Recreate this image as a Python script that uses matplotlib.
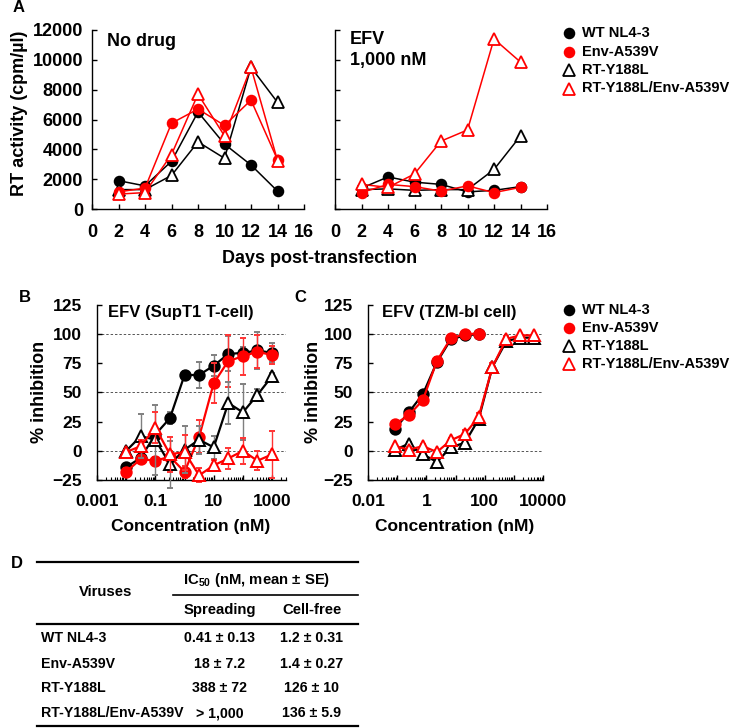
import math
import matplotlib
matplotlib.use('Agg')
import matplotlib.pyplot as plt
from matplotlib.lines import Line2D
from matplotlib import font_manager
from matplotlib.ticker import FixedLocator, FuncFormatter, NullFormatter, LogLocator

# ---------------- data ----------------
series_names = ['WT NL4-3', 'Env-A539V', 'RT-Y188L', 'RT-Y188L/Env-A539V']

days = [2, 4, 6, 8, 10, 12, 14]
A_nodrug_wt = [1900, 1550, 3200, 6500, 4350, 2950, 1200]
A_nodrug_env = [1150, 1400, 5750, 6700, 5600, 7300, 3300]
A_nodrug_rt = [1300, 1300, 2250, 4500, 3400, 9500, 7150]
A_nodrug_rtenv = [1000, 1100, 3650, 7700, 4900, 9500, 3250]

A_efv_wt = [1400, 2150, 1800, 1650, 1150, 1250, 1500]
A_efv_env = [1100, 1650, 1500, 1200, 1550, 1100, 1450]
A_efv_rt = [1300, 1350, 1250, 1300, 1300, 2650, 4900]
A_efv_rtenv = [1650, 1450, 2350, 4550, 5300, 11400, 9850]

B_conc = [0.01, 0.0316, 0.1, 0.316, 1, 3.16, 10, 31.6, 100, 316, 1000]
B_wt = [-14, -6, 14, 28, 65, 65, 73, 83, 84, 86, 84]
B_wt_err = [3, 3, 5, 5, 3, 11, 9, 15, 5, 16, 8]
B_env = [-18, -7, -8.5, -5, -18, 12, 58, 77, 81, 85, 82]
B_env_err = [3, 3, 3, 5, 5, 14, 17, 22, 16, 14, 8]
B_rt = [0, 12.5, 9.5, -11.5, 1, 9.5, 3, 41, 33, 48, 64]
B_rt_err = [2, 19, 30, 20, 20, 12, 10, 18, 24, 5, 3]
B_rtenv = [-1, 4, 20, -3, -1, -21, -12.5, -6.5, 0, -8.5, -3]
B_rtenv_err = [2, 5, 13, 15, 15, 6, 5, 9, 11, 8, 20]

C_conc = [0.085, 0.25, 0.76, 2.3, 6.9, 21, 62, 185, 556, 1667, 5000]
C_wt = [19, 33, 48.5, 76, 95.5, 99, 100]
C_wt_err = [2, 2, 3, 3, 2, 1, 1]
C_env = [23, 30.5, 43.5, 77, 96.5, 100, 100.5]
C_env_err = [2, 2, 3, 3, 2, 1, 1]
C_rt = [1, 6, -3, -9.5, 3, 7, 27, 72, 94, 97, 97]
C_rt_err = [1, 2, 2, 2, 2, 2, 3, 3, 2, 1, 1]
C_rtenv = [4, 1, 4, -1, 9, 14.5, 29, 72, 96, 99, 99]
C_rtenv_err = [1, 2, 2, 2, 2, 3, 3, 3, 2, 1, 1]

table_header_ic50 = 'IC$_{50}$ (nM, mean ± SE)'
table_cols = ['Viruses', 'Spreading', 'Cell-free']
table_rows = ['WT NL4-3', 'Env-A539V', 'RT-Y188L', 'RT-Y188L/Env-A539V']
table_spreading = ['0.41 ± 0.13', '18 ± 7.2', '388 ± 72', '> 1,000']
table_cellfree = ['1.2 ± 0.31', '1.4 ± 0.27', '126 ± 10', '136 ± 5.9']

# ---------------- setup ----------------
plt.rcParams['font.family'] = ['Liberation Sans', 'DejaVu Sans']
plt.rcParams['font.weight'] = 'bold'

names = {f.name for f in font_manager.fontManager.ttflist}
if 'Liberation Sans Narrow' in names:
    tfam = ['Liberation Sans Narrow', 'Liberation Sans']
    tsize = 11.5
else:
    tfam = ['Liberation Sans', 'DejaVu Sans']
    tsize = 10.2
plt.rcParams['mathtext.fontset'] = 'custom'
plt.rcParams['mathtext.rm'] = tfam[0] + ':bold'
plt.rcParams['mathtext.default'] = 'rm'

W, H = 733, 728
fig = plt.figure(figsize=(W / 100, H / 100), dpi=100)


def fx(px):
    return px / W


def fy(py):
    return 1 - py / H


def rect(l, t, r, b):
    return [l / W, 1 - b / H, (r - l) / W, (b - t) / H]


RED = '#ff0000'
styles = [
    dict(color='black', marker='o', mfc='black', mec='black'),
    dict(color=RED, marker='o', mfc=RED, mec=RED),
    dict(color='black', marker='^', mfc='white', mec='black'),
    dict(color=RED, marker='^', mfc='white', mec=RED),
]


def style_axes(ax, tick_size, pad_x, pad_y):
    for s in ['top', 'right']:
        ax.spines[s].set_visible(False)
    for s in ['left', 'bottom']:
        ax.spines[s].set_linewidth(1.0)
    ax.tick_params(which='major', direction='in', length=3.5, width=1.0,
                   labelsize=tick_size)
    ax.tick_params(axis='x', which='major', pad=pad_x)
    ax.tick_params(axis='y', which='major', pad=pad_y)
    ax.tick_params(which='minor', direction='in', length=2, width=0.8)
    for lab in ax.get_xticklabels() + ax.get_yticklabels():
        lab.set_fontweight('bold')


# ---------------- panel A ----------------
axA1 = fig.add_axes(rect(92, 30, 304, 209))
axA2 = fig.add_axes(rect(335, 30, 547, 209))
A_data = [
    (axA1, [A_nodrug_wt, A_nodrug_env, A_nodrug_rt, A_nodrug_rtenv]),
    (axA2, [A_efv_wt, A_efv_env, A_efv_rt, A_efv_rtenv]),
]
for ax, sets in A_data:
    for i, vals in enumerate(sets):
        st = styles[i]
        ms = 7 if st['marker'] == 'o' else 8.5
        ax.plot(days, vals, color=st['color'], marker=st['marker'],
                mfc=st['mfc'], mec=st['mec'], ms=ms, mew=1.3, lw=1.1,
                zorder=3 + (i % 2), clip_on=False)
    ax.set_xlim(0, 16)
    ax.set_ylim(0, 12000)
    ax.set_xticks(range(0, 17, 2))
    ax.set_yticks(range(0, 12001, 2000))
    style_axes(ax, 13, 11, 6.5)
axA2.set_yticklabels([])

fig.text(fx(107), fy(41), 'No drug', fontsize=13, fontweight='bold',
         ha='left', va='center')
fig.text(fx(350), fy(39), 'EFV', fontsize=13, fontweight='bold',
         ha='left', va='center')
fig.text(fx(350), fy(61), '1,000 nM', fontsize=13, fontweight='bold',
         ha='left', va='center')
fig.text(fx(20), fy(113), 'RT activity (cpm/µl)', rotation=90,
         fontsize=13, fontweight='bold', ha='center', va='center')
fig.text(fx(320), fy(258), 'Days post-transfection',
         fontsize=13, fontweight='bold', ha='center', va='center')


# ---------------- legends ----------------
def draw_legend(x_marker, x_text, ys):
    for i, y in enumerate(ys):
        st = styles[i]
        ms = 7 if st['marker'] == 'o' else 8.5
        fig.add_artist(Line2D([fx(x_marker)], [fy(y)], transform=fig.transFigure,
                              marker=st['marker'], mfc=st['mfc'], mec=st['mec'],
                              ms=ms, mew=1.3, ls='none'))
        fig.text(fx(x_text), fy(y), series_names[i], fontsize=10.5,
                 fontweight='bold', ha='left', va='center')


draw_legend(569, 582, [33, 51.5, 70, 88.5])
draw_legend(569, 582, [310, 328, 345.5, 363.5])


# ---------------- panels B, C ----------------
def log_axis(ax, lo, hi, labelled):
    ax.set_xscale('log')
    ax.set_xlim(lo, hi)
    majors = [10.0 ** k for k in range(int(round(math.log10(lo))),
                                        int(math.floor(math.log10(hi))) + 1)]
    ax.xaxis.set_major_locator(FixedLocator(majors))
    lab = dict(labelled)

    def fmt(v, pos):
        for key, s in lab.items():
            if abs(v / key - 1) < 1e-6:
                return s
        return ''
    ax.xaxis.set_major_formatter(FuncFormatter(fmt))
    ax.xaxis.set_minor_locator(LogLocator(base=10, subs=range(2, 10), numticks=30))
    ax.xaxis.set_minor_formatter(NullFormatter())
    ax.set_ylim(-25, 125)
    ax.set_yticks(range(-25, 126, 25))
    for g in (0, 50, 100):
        ax.axhline(g, color='#555555', lw=0.7, ls=(0, (2.5, 2)), zorder=1)


axB = fig.add_axes(rect(97, 305, 286, 480))
axC = fig.add_axes(rect(368, 305, 543, 480))

B_sets = [(B_wt, B_wt_err), (B_env, B_env_err), (B_rt, B_rt_err), (B_rtenv, B_rtenv_err)]
C_sets = [(C_wt, C_wt_err), (C_env, C_env_err), (C_rt, C_rt_err), (C_rtenv, C_rtenv_err)]
for ax, conc, sets in [(axB, B_conc, B_sets), (axC, C_conc, C_sets)]:
    order = [2, 3, 0, 1]
    for i in order:
        vals, err = sets[i]
        st = styles[i]
        x = conc[:len(vals)]
        ecol = '#7f7f7f' if st['color'] == 'black' else '#ff3333'
        ms = 7.5 if st['marker'] == 'o' else 8.5
        ax.errorbar(x, vals, yerr=err, color=st['color'], ecolor=ecol,
                    elinewidth=1.0, capsize=2.5, capthick=1.0,
                    marker=st['marker'], mfc=st['mfc'], mec=st['mec'],
                    ms=ms, mew=1.4, lw=1.6, zorder=3 + i, clip_on=False)

log_axis(axB, 0.001, 3000, [(0.001, '0.001'), (0.1, '0.1'), (10, '10'), (1000, '1000')])
log_axis(axC, 0.01, 10000, [(0.01, '0.01'), (1, '1'), (100, '100'), (10000, '10000')])
style_axes(axB, 12.5, 10, 11)
style_axes(axC, 12.5, 10, 11)

fig.text(fx(108), fy(313), 'EFV (SupT1 T-cell)', fontsize=12, fontweight='bold',
         ha='left', va='center')
fig.text(fx(382), fy(313), 'EFV (TZM-bl cell)', fontsize=12, fontweight='bold',
         ha='left', va='center')
fig.text(fx(39), fy(392), '% inhibition', rotation=90, fontsize=13,
         fontweight='bold', ha='center', va='center')
fig.text(fx(314), fy(392), '% inhibition', rotation=90, fontsize=13,
         fontweight='bold', ha='center', va='center')
fig.text(fx(191), fy(527), 'Concentration (nM)', fontsize=12.5,
         fontweight='bold', ha='center', va='center')
fig.text(fx(455), fy(527), 'Concentration (nM)', fontsize=12.5,
         fontweight='bold', ha='center', va='center')

# panel letters
for lab, (x, y) in {'A': (19, 8), 'B': (25, 297), 'C': (300, 297), 'D': (17, 563)}.items():
    fig.text(fx(x), fy(y), lab, fontsize=12, fontweight='bold', ha='center', va='center')


# ---------------- table D ----------------
def hline(y, x0, x1, lw):
    fig.add_artist(Line2D([fx(x0), fx(x1)], [fy(y), fy(y)], transform=fig.transFigure,
                          color='black', lw=lw))


hline(562, 37, 358, 1.6)
hline(595, 173, 358, 1.2)
hline(624, 37, 358, 1.6)
hline(726, 37, 358, 1.6)

fig.text(fx(257), fy(580), table_header_ic50, family=tfam, fontsize=tsize + 0.5,
         fontweight='bold', ha='center', va='center')
fig.text(fx(106), fy(592), table_cols[0], family=tfam, fontsize=tsize + 0.5,
         fontweight='bold', ha='center', va='center')
fig.text(fx(220), fy(610), table_cols[1], family=tfam, fontsize=tsize + 0.5,
         fontweight='bold', ha='center', va='center')
fig.text(fx(312), fy(610), table_cols[2], family=tfam, fontsize=tsize + 0.5,
         fontweight='bold', ha='center', va='center')
row_y = [638, 664, 688, 713]
for name, s1, s2, y in zip(table_rows, table_spreading, table_cellfree, row_y):
    fig.text(fx(41), fy(y), name, family=tfam, fontsize=tsize, fontweight='bold',
             ha='left', va='center')
    fig.text(fx(220), fy(y), s1, family=tfam, fontsize=tsize, fontweight='bold',
             ha='center', va='center')
    fig.text(fx(312), fy(y), s2, family=tfam, fontsize=tsize, fontweight='bold',
             ha='center', va='center')

fig.savefig('out.png', dpi=100)
